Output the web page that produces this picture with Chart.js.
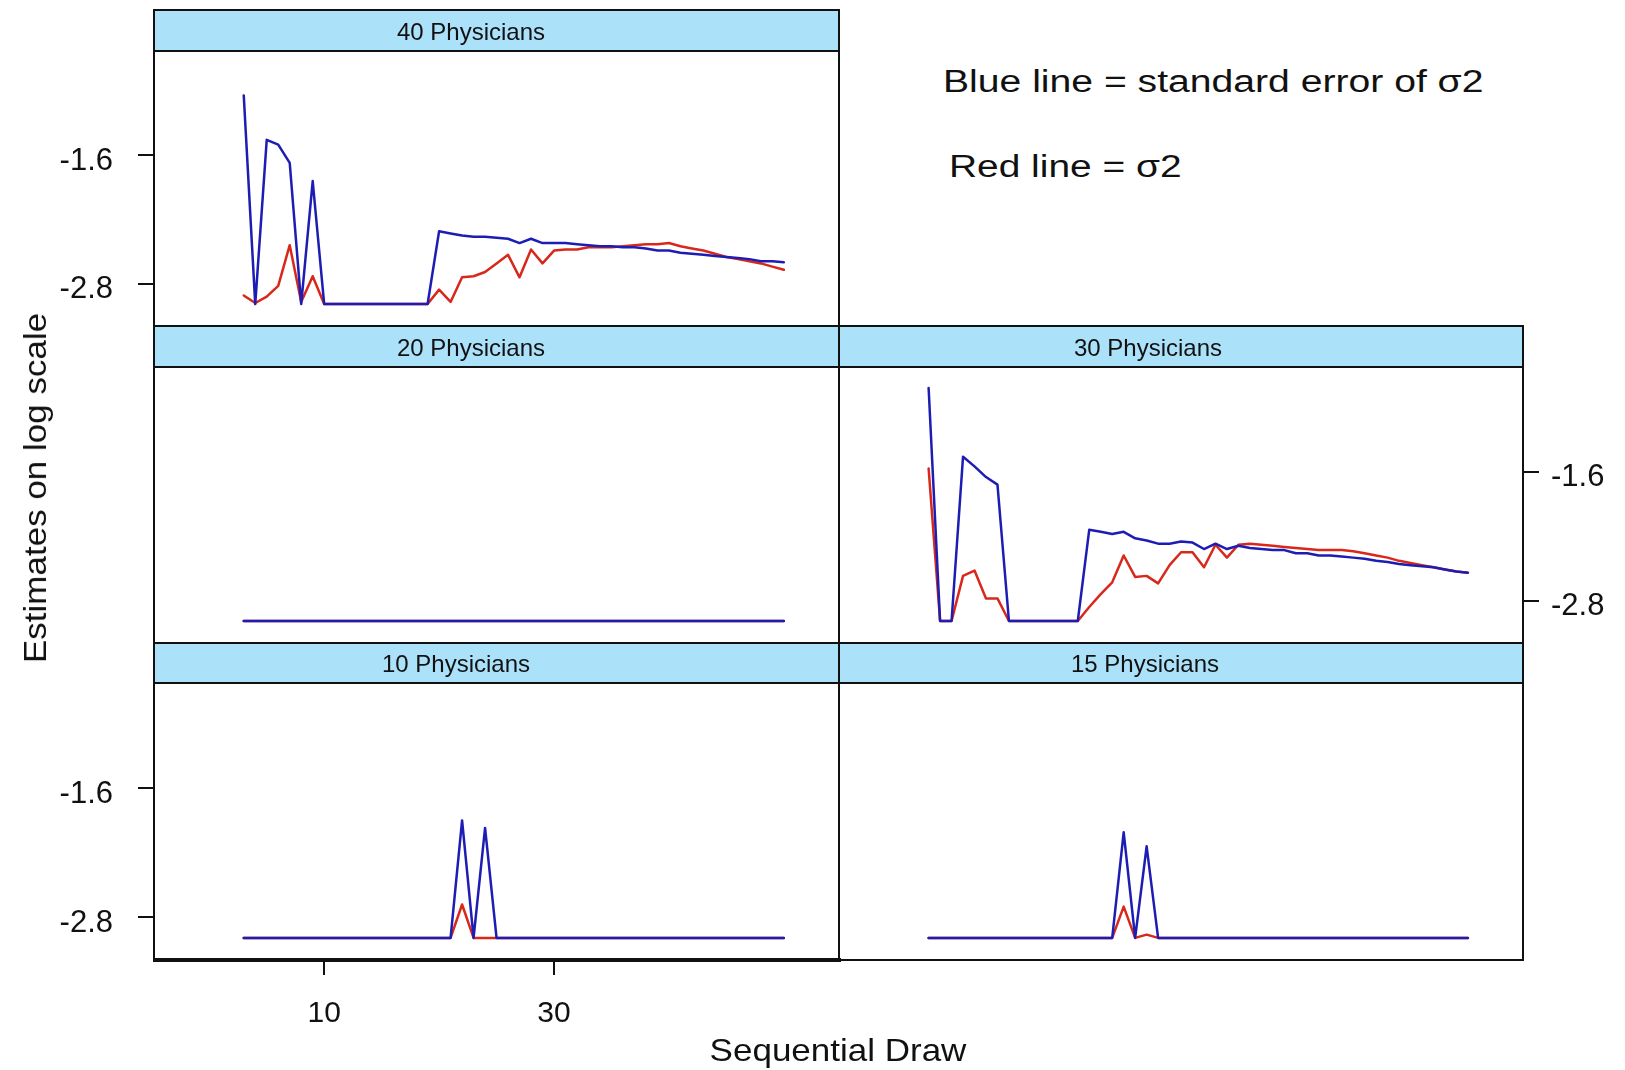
<!DOCTYPE html>
<html><head><meta charset="utf-8">
<script src="https://cdn.jsdelivr.net/npm/chart.js@4.4.1/dist/chart.umd.min.js"></script>
<style>
html,body{margin:0;padding:0;background:#fff;width:1625px;height:1070px;overflow:hidden;position:relative;font-family:"Liberation Sans",Arial,sans-serif;}
canvas{position:absolute;}
.frame{position:absolute;border:2px solid #111;box-sizing:border-box;pointer-events:none;z-index:5;}
.strip{position:absolute;background:#ace1fa;border:2px solid #111;box-sizing:border-box;z-index:4;}
.striptxt{position:absolute;font-size:24px;line-height:24px;color:#111;white-space:nowrap;transform:translate(-50%,-50%);z-index:6;}
.txt{position:absolute;white-space:nowrap;color:#111;line-height:1;}
</style></head><body>
<script>
// ---------------- data ----------------
const DRAWS = [3,4,5,6,7,8,9,10,11,12,13,14,15,16,17,18,19,20,21,22,23,24,25,26,27,28,29,30,31,32,33,34,35,36,37,38,39,40,41,42,43,44,45,46,47,48,49,50];

const panelTitles = ["40 Physicians","20 Physicians","30 Physicians","10 Physicians","15 Physicians"];

const blue40 = [-1.04,-2.99,-1.455,-1.50,-1.67,-2.99,-1.84,-2.99,
  -2.99,-2.99,-2.99,-2.99,-2.99,-2.99,-2.99,-2.99,-2.99,
  -2.31,-2.33,-2.35,-2.36,-2.36,-2.37,-2.38,-2.42,-2.38,-2.42,
  -2.42,-2.42,-2.43,-2.44,-2.45,-2.45,-2.46,-2.46,-2.47,-2.49,
  -2.49,-2.51,-2.52,-2.53,-2.54,-2.55,-2.56,-2.57,-2.59,-2.59,
  -2.60];
const red40 = [-2.91,-2.98,-2.92,-2.82,-2.44,-2.97,-2.73,-2.99,
  -2.99,-2.99,-2.99,-2.99,-2.99,-2.99,-2.99,-2.99,-2.99,
  -2.855,-2.97,-2.74,-2.73,-2.69,-2.61,-2.53,-2.74,-2.48,-2.61,
  -2.49,-2.48,-2.48,-2.46,-2.46,-2.46,-2.45,-2.44,-2.43,-2.43,
  -2.42,-2.45,-2.47,-2.49,-2.52,-2.55,-2.57,-2.59,-2.61,-2.64,
  -2.67];

const blue30 = [-0.82,-2.99,-2.99,-1.46,-1.55,-1.65,-1.72,-2.99,
  -2.99,-2.99,-2.99,-2.99,-2.99,-2.99,
  -2.14,-2.16,-2.18,
  -2.16,-2.22,-2.24,-2.27,-2.27,-2.25,-2.26,-2.32,-2.27,-2.32,
  -2.29,-2.31,-2.32,-2.33,-2.33,-2.36,-2.36,-2.38,-2.38,-2.39,
  -2.40,-2.41,-2.43,-2.44,-2.46,-2.47,-2.48,-2.49,-2.51,-2.53,
  -2.54];
const red30 = [-1.57,-2.99,-2.99,-2.57,-2.52,-2.78,-2.78,-2.99,
  -2.99,-2.99,-2.99,-2.99,-2.99,-2.99,
  -2.86,-2.74,-2.63,
  -2.38,-2.58,-2.57,-2.64,-2.47,-2.35,-2.35,-2.49,-2.28,-2.40,
  -2.28,-2.27,-2.28,-2.29,-2.30,-2.31,-2.32,-2.33,-2.33,-2.33,
  -2.34,-2.36,-2.38,-2.40,-2.43,-2.45,-2.47,-2.49,-2.51,-2.53,
  -2.54];

const blue20 = [-2.99,-2.99,-2.99,-2.99,-2.99,-2.99,-2.99,-2.99,-2.99,-2.99,-2.99,-2.99,
  -2.99,-2.99,-2.99,-2.99,-2.99,-2.99,-2.99,-2.99,-2.99,-2.99,-2.99,-2.99,
  -2.99,-2.99,-2.99,-2.99,-2.99,-2.99,-2.99,-2.99,-2.99,-2.99,-2.99,-2.99,
  -2.99,-2.99,-2.99,-2.99,-2.99,-2.99,-2.99,-2.99,-2.99,-2.99,-2.99,-2.99];
const red20 = [-2.99,-2.99,-2.99,-2.99,-2.99,-2.99,-2.99,-2.99,-2.99,-2.99,-2.99,-2.99,
  -2.99,-2.99,-2.99,-2.99,-2.99,-2.99,-2.99,-2.99,-2.99,-2.99,-2.99,-2.99,
  -2.99,-2.99,-2.99,-2.99,-2.99,-2.99,-2.99,-2.99,-2.99,-2.99,-2.99,-2.99,
  -2.99,-2.99,-2.99,-2.99,-2.99,-2.99,-2.99,-2.99,-2.99,-2.99,-2.99,-2.99];

const blue10 = [-2.99,-2.99,-2.99,-2.99,-2.99,-2.99,-2.99,-2.99,-2.99,-2.99,
  -2.99,-2.99,-2.99,-2.99,-2.99,-2.99,-2.99,-2.99,-2.99,
  -1.90,-2.99,-1.97,
  -2.99,-2.99,-2.99,-2.99,-2.99,-2.99,-2.99,-2.99,-2.99,-2.99,-2.99,-2.99,-2.99,
  -2.99,-2.99,-2.99,-2.99,-2.99,-2.99,-2.99,-2.99,-2.99,-2.99,-2.99,-2.99,-2.99];
const red10 = [-2.99,-2.99,-2.99,-2.99,-2.99,-2.99,-2.99,-2.99,-2.99,-2.99,
  -2.99,-2.99,-2.99,-2.99,-2.99,-2.99,-2.99,-2.99,-2.99,
  -2.68,-2.99,-2.99,
  -2.99,-2.99,-2.99,-2.99,-2.99,-2.99,-2.99,-2.99,-2.99,-2.99,-2.99,-2.99,-2.99,
  -2.99,-2.99,-2.99,-2.99,-2.99,-2.99,-2.99,-2.99,-2.99,-2.99,-2.99,-2.99,-2.99];

const blue15 = [-2.99,-2.99,-2.99,-2.99,-2.99,-2.99,-2.99,-2.99,-2.99,-2.99,
  -2.99,-2.99,-2.99,-2.99,-2.99,-2.99,-2.99,
  -2.01,-2.99,-2.14,
  -2.99,-2.99,-2.99,-2.99,-2.99,-2.99,-2.99,-2.99,-2.99,-2.99,-2.99,-2.99,-2.99,-2.99,
  -2.99,-2.99,-2.99,-2.99,-2.99,-2.99,-2.99,-2.99,-2.99,-2.99,-2.99,-2.99,-2.99,-2.99];
const red15 = [-2.99,-2.99,-2.99,-2.99,-2.99,-2.99,-2.99,-2.99,-2.99,-2.99,
  -2.99,-2.99,-2.99,-2.99,-2.99,-2.99,-2.99,
  -2.70,-2.99,-2.96,
  -2.99,-2.99,-2.99,-2.99,-2.99,-2.99,-2.99,-2.99,-2.99,-2.99,-2.99,-2.99,-2.99,-2.99,
  -2.99,-2.99,-2.99,-2.99,-2.99,-2.99,-2.99,-2.99,-2.99,-2.99,-2.99,-2.99,-2.99,-2.99];

const X_TICKS = [10, 30];
const Y_TICKS = [-1.6, -2.8];
const X_LIMITS = [-4.81, 54.8];
const Y_LIMITS = [-3.195, -0.625];

const legendLines = ["Blue line = standard error of \u03c32", "Red line = \u03c32"];
const xTitle = "Sequential Draw";
const yTitle = "Estimates on log scale";

// ---------------- layout ----------------
const FONT = '"Liberation Sans", Arial, sans-serif';
const BLUE = '#1d1db4';
const RED = '#d8281c';
const COL = { L: [154, 839], R: [839, 1523] };
const ROW = [ {strip:10, top:51, bottom:326}, {strip:326, top:367, bottom:643}, {strip:643, top:683, bottom:960} ];

Chart.defaults.font.family = FONT;

function addDiv(cls, style, text) {
  const d = document.createElement('div');
  d.className = cls;
  Object.assign(d.style, style);
  if (text !== undefined) d.textContent = text;
  document.body.appendChild(d);
  return d;
}

function makePanel(cfg) {
  const col = COL[cfg.col], row = ROW[cfg.row];
  const x0 = col[0], x1 = col[1];
  addDiv('strip', {left:(x0-1)+'px', top:(row.strip-1)+'px', width:(x1-x0+2)+'px', height:(row.top-row.strip+2)+'px'});
  addDiv('striptxt', {left:cfg.labelX+'px', top:((row.strip+row.top)/2+1)+'px'}, cfg.title);
  addDiv('frame', {left:(x0-1)+'px', top:(row.strip-1)+'px', width:(x1-x0+2)+'px', height:(row.bottom-row.strip+2)+'px'});

  const yW = cfg.yAxis === 'left' ? x0 : (cfg.yAxis === 'right' ? 1625 - x1 : 0);
  const xH = cfg.xAxis ? 110 : 0;
  const left = cfg.yAxis === 'left' ? 0 : x0;
  const width = (x1 - x0) + yW;
  const height = (row.bottom - row.top) + xH;
  const cv = document.createElement('canvas');
  cv.width = width; cv.height = height;
  cv.style.left = left + 'px'; cv.style.top = row.top + 'px';
  cv.style.width = width + 'px'; cv.style.height = height + 'px';
  document.body.appendChild(cv);

  const tickGrid = {display:true, drawOnChartArea:false, drawTicks:true, tickLength:16, tickWidth:2, tickColor:'#111', color:'#111', lineWidth:2};
  const lineStyle = {borderWidth:2.5, pointRadius:0, tension:0, fill:false, borderJoinStyle:'round', borderCapStyle:'round'};
  new Chart(cv.getContext('2d'), {
    type: 'line',
    data: {
      datasets: [
        Object.assign({label:'standard error of \u03c32', data: DRAWS.map((d,i)=>({x:d, y:cfg.blue[i]})), borderColor:BLUE}, lineStyle),
        Object.assign({label:'\u03c32', data: DRAWS.map((d,i)=>({x:d, y:cfg.red[i]})), borderColor:RED}, lineStyle)
      ]
    },
    options: {
      responsive:false, animation:false, devicePixelRatio:1,
      layout:{padding:0, autoPadding:false},
      plugins:{legend:{display:false}, tooltip:{enabled:false}, title:{display:false}},
      events:[],
      scales:{
        x:{type:'linear', min:X_LIMITS[0], max:X_LIMITS[1], display:!!cfg.xAxis, position:'bottom',
           afterBuildTicks:s=>{ s.ticks = X_TICKS.map(v=>({value:v})); },
           afterFit:s=>{ s.height = xH; s.paddingLeft = 0; s.paddingRight = 0; },
           grid:Object.assign({}, tickGrid, {tickLength:15}), border:{display:false},
           ticks:{autoSkip:false, maxRotation:0, color:'#111', font:{size:30}, padding:21, callback:v=>String(v)}},
        y:{type:'linear', min:Y_LIMITS[0], max:Y_LIMITS[1], display:!!cfg.yAxis, position:cfg.yAxis || 'left',
           afterBuildTicks:s=>{ s.ticks = Y_TICKS.map(v=>({value:v})); },
           afterFit:s=>{ s.width = yW; s.paddingTop = 0; s.paddingBottom = 0; },
           grid:tickGrid, border:{display:false},
           ticks:{autoSkip:false, color:'#111', font:{size:31}, padding: cfg.yAxis === 'right' ? 12 : 25, labelOffset:6, callback:v=>v.toFixed(1)}}
      }
    }
  });
}

makePanel({title:panelTitles[0], col:'L', row:0, labelX:471, blue:blue40, red:red40, yAxis:'left'});
makePanel({title:panelTitles[1], col:'L', row:1, labelX:471, blue:blue20, red:red20});
makePanel({title:panelTitles[2], col:'R', row:1, labelX:1148, blue:blue30, red:red30, yAxis:'right'});
makePanel({title:panelTitles[3], col:'L', row:2, labelX:456, blue:blue10, red:red10, yAxis:'left', xAxis:true});
makePanel({title:panelTitles[4], col:'R', row:2, labelX:1145, blue:blue15, red:red15});

// thick bottom axis line under the left column
addDiv('frame', {left:'153px', top:'958px', width:'688px', height:'4px', border:'none', background:'#111'});

function fitText(text, size, opts) {
  const d = addDiv('txt', {fontSize:size+'px'}, text);
  const w = d.offsetWidth;
  const k = opts.width / w;
  if (opts.rotate) {
    d.style.left = opts.cx + 'px'; d.style.top = opts.cy + 'px';
    d.style.transformOrigin = '0 0';
    d.style.transform = 'rotate(-90deg) scaleX(' + k + ') translate(-50%,-50%)';
  } else if (opts.center) {
    d.style.left = opts.cx + 'px'; d.style.top = opts.cy + 'px';
    d.style.transform = 'translate(-50%,-50%) scaleX(' + k + ')';
  } else {
    d.style.left = opts.x + 'px'; d.style.top = opts.cy + 'px';
    d.style.transformOrigin = '0 50%';
    d.style.transform = 'translateY(-50%) scaleX(' + k + ')';
  }
  return d;
}
fitText(legendLines[0], 31, {x:943, cy:81, width:540});
fitText(legendLines[1], 31, {x:949, cy:166, width:232});
fitText(xTitle, 32, {center:true, cx:838, cy:1050, width:257});
fitText(yTitle, 32, {rotate:true, cx:35, cy:488, width:350});
</script>
</body></html>
